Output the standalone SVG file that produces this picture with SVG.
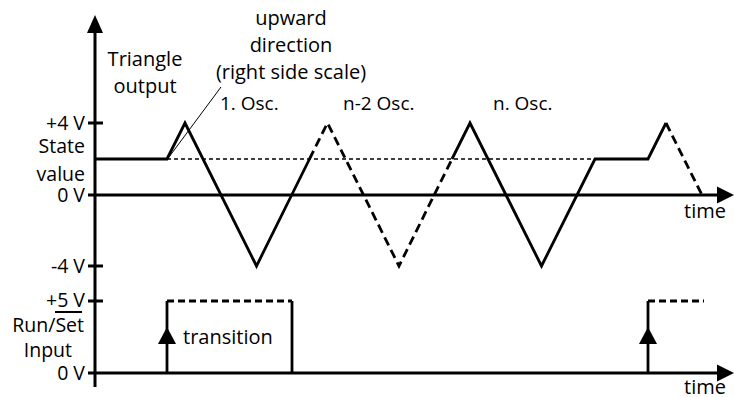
<svg xmlns="http://www.w3.org/2000/svg" width="734" height="397" viewBox="0 0 734 397">
  <style>
    text { font-family: "Open Sans", "Liberation Sans", sans-serif; font-size: 20px; fill: #000; }
    .osc { font-size: 19px; }
    .side { font-size: 19.5px; }
    .end { text-anchor: end; }
    .mid { text-anchor: middle; }
    .axis { stroke: #000; stroke-width: 3; fill: none; }
    .wave { stroke: #000; stroke-width: 2.8; fill: none; stroke-linejoin: miter; }
    .wave-dash { stroke: #000; stroke-width: 2.8; fill: none; stroke-dasharray: 9 5; }
    .state { stroke: #000; stroke-width: 1.4; fill: none; stroke-dasharray: 4 3; }
    .pulse-dash { stroke: #000; stroke-width: 2.8; fill: none; stroke-dasharray: 7 4; }
    .thin { stroke: #000; stroke-width: 1; fill: none; }
    .head { fill: #000; }
  </style>

  <rect width="734" height="397" fill="#fff"/>

  <!-- axes -->
  <g id="axes">
    <line class="axis" x1="95" y1="387" x2="95" y2="30"/>
    <polygon class="head" points="95,15 87,33 103,33"/>
    <line class="axis" x1="88" y1="195" x2="720" y2="195"/>
    <polygon class="head" points="734,195 717,186.5 717,203.5"/>
    <line class="axis" x1="88" y1="373" x2="720" y2="373"/>
    <polygon class="head" points="734,373 717,364.5 717,381.5"/>
    <!-- ticks -->
    <line class="axis" x1="88" y1="123" x2="103" y2="123"/>
    <line class="axis" x1="88" y1="266" x2="103" y2="266"/>
    <line class="axis" x1="88" y1="301" x2="103" y2="301"/>
  </g>

  <!-- triangle output -->
  <g id="triangle-wave">
    <line class="state" x1="167" y1="159" x2="595" y2="159"/>
    <polyline class="wave" points="95,159 167,159 185,123 256.5,266 309.5,159"/>
    <polyline class="wave-dash" points="309.5,159 327.5,123 399,266 452,159"/>
    <polyline class="wave" points="452,159 470,123 541.5,266 595,159 648,159 666,123"/>
    <polyline class="wave-dash" points="666,123 702,195"/>
    <line class="thin" x1="169" y1="157" x2="221" y2="87"/>
  </g>

  <!-- run/set input -->
  <g id="run-set-input">
    <polyline class="wave" points="167,373 167,301"/>
    <polyline class="pulse-dash" points="167,301 292,301"/>
    <polyline class="wave" points="292,301 292,373"/>
    <polygon class="head" points="167,327 158,344 176,344"/>
    <polyline class="wave" points="648,373 648,301"/>
    <polyline class="pulse-dash" points="648,301 704,301"/>
    <polygon class="head" points="648,327 639,344 657,344"/>
  </g>

  <!-- labels -->
  <g id="labels">
    <text class="mid" x="145" y="66">Triangle</text>
    <text class="mid" x="145" y="93">output</text>
    <text class="mid" x="291" y="25">upward</text>
    <text class="mid" x="291" y="52">direction</text>
    <text class="mid" x="291" y="79">(right side scale)</text>
    <text class="osc" x="220" y="110">1. Osc.</text>
    <text class="osc" x="343" y="110">n-2 Osc.</text>
    <text class="osc" x="493" y="110">n. Osc.</text>

    <text class="end side" x="85" y="130">+4 V</text>
    <text class="end side" x="85" y="153">State</text>
    <text class="end side" x="85" y="181">value</text>
    <text class="end side" x="85" y="202">0 V</text>
    <text class="end side" x="85" y="273">-4 V</text>
    <text class="end side" x="85" y="307">+5 V</text>
    <text class="end side" x="84" y="332">Run/Set</text>
    <line x1="55" y1="312" x2="82" y2="312" stroke="#000" stroke-width="2"/>
    <text class="end side" x="72" y="357">Input</text>
    <text class="end side" x="85" y="380">0 V</text>

    <text x="183" y="344">transition</text>
    <text x="684" y="218">time</text>
    <text x="684" y="394">time</text>
  </g>
</svg>
